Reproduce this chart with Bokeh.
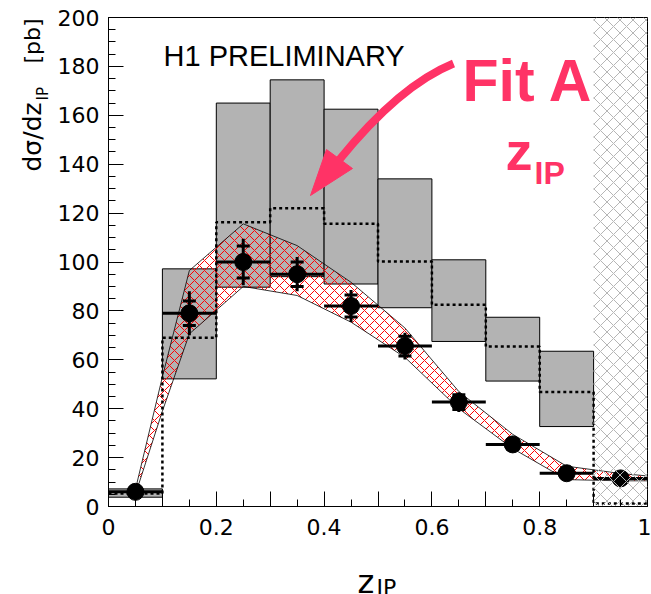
from bokeh.plotting import figure
from bokeh.models import Label, Range1d, FixedTicker
from bokeh.layouts import row, column
from bokeh.core.properties import value
from bokeh.embed import file_html
from bokeh.resources import INLINE
import math

# ---------------- data ----------------
bin_lo = [0.0, 0.1, 0.2, 0.3, 0.4, 0.5, 0.6, 0.7, 0.8, 0.9]
bin_hi = [0.1, 0.2, 0.3, 0.4, 0.5, 0.6, 0.7, 0.8, 0.9, 1.0]
z_center = [0.05, 0.15, 0.25, 0.35, 0.45, 0.55, 0.65, 0.75, 0.85, 0.95]

# H1 data
xsec = [6.0, 79.0, 100.0, 95.0, 82.0, 65.6, 42.7, 25.4, 13.6, 11.5]
stat_err = [1.0, 5.0, 6.5, 5.0, 4.5, 4.0, 3.0, 2.0, 1.5, 1.5]
tot_err = [1.5, 9.0, 9.5, 7.0, 6.5, 5.5, 4.0, 2.5, 2.0, 2.0]

# grey band prediction (first 9 bins)
grey_lo = [3.8, 52.2, 89.7, 94.0, 91.0, 81.3, 67.5, 51.3, 32.7]
grey_hi = [7.2, 97.2, 165.0, 174.5, 162.5, 134.0, 100.9, 77.4, 63.5]

# dotted histogram
dotted = [5.3, 69.0, 116.3, 122.0, 115.6, 100.2, 82.5, 65.4, 46.8, 1.2]

# Fit A band (red hatched)
band_z = [0.05, 0.1, 0.15, 0.25, 0.35, 0.45, 0.55, 0.65, 0.75, 0.85, 0.95, 1.0]
band_up = [7.0, 53.0, 96.5, 115.6, 106.7, 91.7, 73.0, 47.0, 29.5, 16.5, 13.5, 12.5]
band_dn = [5.0, 39.0, 70.6, 90.0, 86.3, 75.4, 61.0, 40.0, 23.7, 11.0, 10.5, 10.5]

# excluded region
excl_lo, excl_hi = 0.9, 1.0

x_ticks = [0, 0.1, 0.2, 0.3, 0.4, 0.5, 0.6, 0.7, 0.8, 0.9, 1]
x_tick_labels = ["0", "", "0.2", "", "0.4", "", "0.6", "", "0.8", "", "1"]
x_minor = [i * 0.05 for i in range(21)]
y_ticks = list(range(0, 201, 20))
y_minor = list(range(0, 201, 5))

PINK = "#ff3366"
Y_MAX = 200

# page geometry (pixels)
W, H = 651, 594
FRAME_L, FRAME_R, FRAME_T, FRAME_B = 108, 647, 17, 506
LEFT_W = 54          # strip holding the y-axis title
MAIN_H = 546         # main figure height; x-axis title strip below it

# ---------------- main figure ----------------
p = figure(width=W - LEFT_W, height=MAIN_H, x_range=Range1d(0, 1), y_range=Range1d(0, Y_MAX),
           output_backend="svg", toolbar_location=None,
           min_border_left=FRAME_L - LEFT_W, min_border_right=W - FRAME_R,
           min_border_top=FRAME_T, min_border_bottom=MAIN_H - FRAME_B)
p.xgrid.visible = False
p.ygrid.visible = False
p.outline_line_color = "black"
p.outline_line_width = 1
p.background_fill_color = "white"
p.border_fill_color = "white"

for ax in (p.xaxis[0], p.yaxis[0]):
    ax.major_tick_in = 15
    ax.major_tick_out = 0
    ax.minor_tick_in = 7
    ax.minor_tick_out = 0
    ax.axis_line_color = "black"
    ax.major_tick_line_color = "black"
    ax.minor_tick_line_color = "black"
    ax.major_label_text_font = "DejaVu Sans"
    ax.major_label_text_font_size = "22px"
    ax.major_label_text_color = "black"

p.xaxis.ticker = FixedTicker(ticks=x_ticks, minor_ticks=x_minor)
p.xaxis.major_label_overrides = {t: l for t, l in zip(x_ticks, x_tick_labels)}
p.xaxis.major_label_standoff = 12
p.yaxis.ticker = FixedTicker(ticks=y_ticks, minor_ticks=y_minor)
p.yaxis.major_label_standoff = 9

# grey boxes
p.quad(left=bin_lo[:9], right=bin_hi[:9], bottom=grey_lo, top=grey_hi,
       fill_color="#b3b3b3", line_color="black", line_width=1)

# red hatched band
p.patch(x=band_z + band_z[::-1], y=band_up + band_dn[::-1],
        fill_color=None, hatch_pattern="diagonal_cross", hatch_color="red",
        hatch_scale=10, hatch_weight=1, line_color="black", line_width=0.8)

# dotted histogram
p.step(x=bin_lo + [bin_hi[-1]], y=dotted + [dotted[-1]], mode="after",
       line_dash="3 3", line_width=2.5, line_color="black")

# data points with errors
p.segment(x0=bin_lo, y0=xsec, x1=bin_hi, y1=xsec, line_width=3, line_color="black")
p.segment(x0=z_center, y0=[v - e for v, e in zip(xsec, tot_err)],
          x1=z_center, y1=[v + e for v, e in zip(xsec, tot_err)],
          line_width=3, line_color="black")
p.scatter(x=z_center + z_center,
          y=[v + e for v, e in zip(xsec, stat_err)] + [v - e for v, e in zip(xsec, stat_err)],
          marker="dash", size=13, line_width=3, line_color="black")
p.scatter(x=z_center, y=xsec, size=17, fill_color="black", line_color="black")

# excluded region hatch
p.quad(left=[excl_lo], right=[excl_hi], bottom=[0], top=[Y_MAX],
       fill_color=None, line_color=None, hatch_pattern="diagonal_cross",
       hatch_color="#b5b5b5", hatch_scale=13, hatch_weight=1)

# ---------------- annotations inside the frame ----------------
def px2x(px):
    return (px - FRAME_L) / (FRAME_R - FRAME_L)

def py2y(py):
    return (FRAME_B - py) * Y_MAX / (FRAME_B - FRAME_T)

ARROW_START = (px2x(453), py2y(63))
ARROW_CTRL = (px2x(399), py2y(85))
ARROW_END = (px2x(339), py2y(159))
HEAD = [(px2x(310), py2y(195)), (px2x(326), py2y(149)), (px2x(352), py2y(168))]
p.quadratic(x0=[ARROW_START[0]], y0=[ARROW_START[1]], x1=[ARROW_END[0]], y1=[ARROW_END[1]],
            cx=[ARROW_CTRL[0]], cy=[ARROW_CTRL[1]], line_color=PINK, line_width=8)
p.patch(x=[h[0] for h in HEAD], y=[h[1] for h in HEAD], fill_color=PINK, line_color=PINK)

p.add_layout(Label(x=px2x(163), y=py2y(55), text="H1 PRELIMINARY",
                   text_font="Liberation Sans", text_font_size="29px",
                   text_color="black", text_baseline="alphabetic"))
p.add_layout(Label(x=px2x(462), y=py2y(80), text="Fit A",
                   text_font="Liberation Sans", text_font_size="59px", text_font_style="bold",
                   text_color=PINK, text_baseline="alphabetic"))
p.add_layout(Label(x=px2x(505), y=py2y(150), text="z",
                   text_font="Liberation Sans", text_font_size="54px", text_font_style="bold",
                   text_color=PINK, text_baseline="alphabetic"))
p.add_layout(Label(x=px2x(534), y=py2y(172), text="IP",
                   text_font="Liberation Sans", text_font_size="32px", text_font_style="bold",
                   text_color=PINK, text_baseline="alphabetic"))

# ---------------- title strips ----------------
def strip(width, height, x_lo, x_hi, y_lo, y_hi, bl=0, br=0):
    f = figure(width=width, height=height, output_backend="svg", toolbar_location=None,
               x_range=Range1d(x_lo, x_hi), y_range=Range1d(y_lo, y_hi),
               x_axis_location=None, y_axis_location=None,
               min_border=0, min_border_left=bl, min_border_right=br,
               min_border_top=0, min_border_bottom=0)
    f.outline_line_color = None
    f.xgrid.visible = False
    f.ygrid.visible = False
    f.background_fill_color = "white"
    f.border_fill_color = "white"
    return f

# y-axis title: (baseline x, page-y of start, text, size)
left = strip(LEFT_W, H, 0, LEFT_W, 0, H)
YT = [(32, 171, "dσ/dz", "25px"), (42, 100, "IP", "15px"), (32, 63, "[pb]", "22px")]
left.text(x=[t[0] for t in YT], y=[H - t[1] for t in YT], text=[t[2] for t in YT],
          angle=math.pi / 2, text_font=value("DejaVu Sans"),
          text_font_size=[t[3] for t in YT], text_color="black",
          text_align="left", text_baseline="alphabetic")

# x-axis title strip: its frame is aligned with the main frame horizontally
bottom_h = H - MAIN_H
bottom = strip(W - LEFT_W, bottom_h, FRAME_L, FRAME_R, 0, bottom_h,
               bl=FRAME_L - LEFT_W, br=W - FRAME_R)
XT = [(357, 581, "z", "32px"), (376, 587, "IP", "22px")]
bottom.text(x=[t[0] for t in XT], y=[H - t[1] for t in XT], text=[t[2] for t in XT],
            text_font=value("DejaVu Sans"), text_font_size=[t[3] for t in XT],
            text_color="black", text_align="left", text_baseline="alphabetic")

layout = row(left, column(p, bottom, spacing=0), spacing=0)
open("out.html", "w").write(file_html(layout, INLINE))
